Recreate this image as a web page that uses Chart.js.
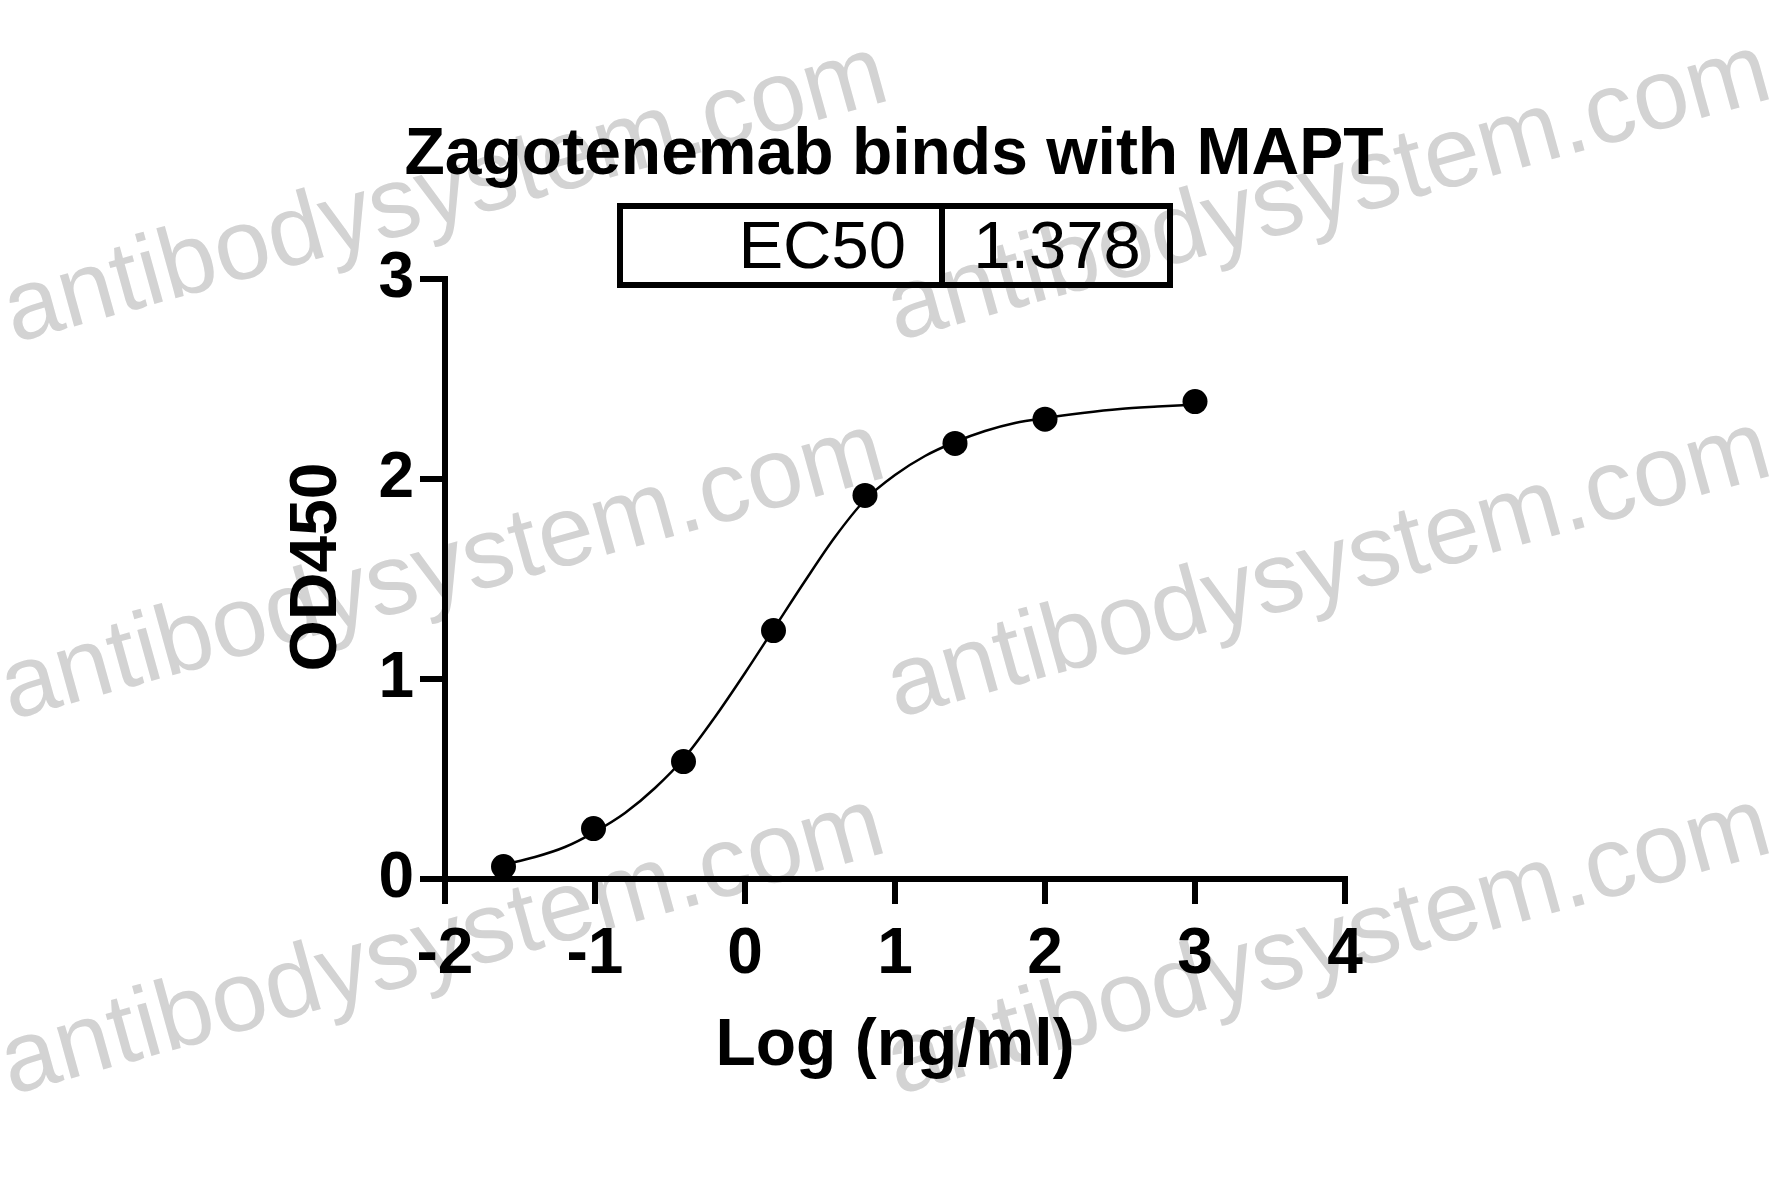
<!DOCTYPE html>
<html>
<head>
<meta charset="utf-8">
<script src="https://cdn.jsdelivr.net/npm/chart.js@4.4.1/dist/chart.umd.min.js"></script>
<style>
  html, body { margin: 0; padding: 0; background: #fff; }
  #wrap { width: 1781px; height: 1197px; }
</style>
</head>
<body>
<div id="wrap"><canvas id="chart" width="1781" height="1197"></canvas></div>
<script>
// measured points: log concentration (ng/ml) vs OD450
const logConc = [-1.61, -1.01, -0.41, 0.19, 0.80, 1.40, 2.00, 3.00];
const od450 = [0.062, 0.252, 0.587, 1.242, 1.918, 2.178, 2.299, 2.387];

// fitted curve
const fitX = [-1.61, -1.4, -1.2, -1.0, -0.8, -0.6, -0.4, -0.2, 0, 0.2, 0.4, 0.6, 0.8, 1.0, 1.2, 1.4, 1.6, 1.8, 2.0, 2.25, 2.5, 2.75, 3.0];
const fitY = [0.072, 0.11, 0.16, 0.236, 0.33, 0.455, 0.61, 0.81, 1.03, 1.26, 1.49, 1.71, 1.895, 2.02, 2.115, 2.185, 2.24, 2.28, 2.305, 2.33, 2.35, 2.362, 2.372];

const xTicks = [-2, -1, 0, 1, 2, 3, 4];
const yTicks = [0, 1, 2, 3];

const chartTitle = 'Zagotenemab binds with MAPT';
const yTitle = 'OD450';
const ec50Label = 'EC50';
const ec50Value = '1.378';
const watermark = 'antibodysystem.com';

const FONT = '"Liberation Sans", Arial, sans-serif';

const pts = logConc.map((x, i) => ({ x: x, y: od450[i] }));
const fit = fitX.map((x, i) => ({ x: x, y: fitY[i] }));

// white page + grey watermark behind everything
const watermarkPlugin = {
  id: 'watermark',
  beforeDraw(chart) {
    const ctx = chart.ctx;
    ctx.save();
    ctx.fillStyle = '#fff';
    ctx.fillRect(0, 0, chart.width, chart.height);
    ctx.fillStyle = '#d3d3d3';
    ctx.font = '100px ' + FONT;
    ctx.textBaseline = 'alphabetic';
    ctx.textAlign = 'left';
    const spots = [[14, 343], [897, 341], [11, 720], [897, 718], [11, 1095], [897, 1095]];
    spots.forEach(p => {
      ctx.save();
      ctx.translate(p[0], p[1]);
      ctx.rotate(-15.5 * Math.PI / 180);
      ctx.fillText(watermark, 0, 0);
      ctx.restore();
    });
    ctx.restore();
  }
};

// title, y axis title and the EC50 table
const headerPlugin = {
  id: 'header',
  afterDraw(chart) {
    const ctx = chart.ctx;
    ctx.save();
    ctx.fillStyle = '#000';
    ctx.textBaseline = 'alphabetic';
    ctx.textAlign = 'center';
    ctx.font = 'bold 66px ' + FONT;
    ctx.fillText(chartTitle, 894, 174);

    // y axis title, rotated
    ctx.save();
    ctx.translate(318, 567);
    ctx.rotate(-Math.PI / 2);
    ctx.textBaseline = 'middle';
    ctx.font = 'bold 66px ' + FONT;
    ctx.fillText(yTitle, 0, 0);
    ctx.restore();

    ctx.strokeStyle = '#000';
    ctx.lineWidth = 6;
    ctx.strokeRect(620, 206, 550, 79);
    ctx.beginPath();
    ctx.moveTo(942, 206);
    ctx.lineTo(942, 285);
    ctx.stroke();

    ctx.font = '67px ' + FONT;
    ctx.textAlign = 'right';
    ctx.fillText(ec50Label, 906, 268);
    ctx.textAlign = 'center';
    ctx.fillText(ec50Value, 1057, 268);
    ctx.restore();
  }
};

new Chart(document.getElementById('chart'), {
  type: 'scatter',
  data: {
    datasets: [
      {
        data: pts,
        showLine: false,
        pointRadius: 12.5,
        pointHoverRadius: 12.5,
        backgroundColor: '#000',
        borderColor: '#000',
        borderWidth: 0
      },
      {
        data: fit,
        showLine: true,
        pointRadius: 0,
        borderColor: '#000',
        borderWidth: 2.5,
        cubicInterpolationMode: 'monotone',
        fill: false
      }
    ]
  },
  options: {
    responsive: false,
    animation: false,
    events: [],
    clip: false,
    layout: { padding: { top: 279, right: 436, bottom: 0, left: 0 } },
    plugins: {
      legend: { display: false },
      tooltip: { enabled: false },
      title: { display: false }
    },
    scales: {
      x: {
        type: 'linear',
        min: -2,
        max: 4,
        afterBuildTicks: s => { s.ticks = xTicks.map(v => ({ value: v })); },
        afterFit: s => { s.height = 318; },
        ticks: {
          color: '#000',
          font: { family: FONT, size: 64, weight: 'bold' },
          padding: 13,
          maxRotation: 0
        },
        grid: { drawOnChartArea: false, drawTicks: true, tickLength: 25, lineWidth: 6, color: '#000' },
        border: { display: true, width: 6, color: '#000' },
        title: {
          display: true,
          text: 'Log (ng/ml)',
          color: '#000',
          font: { family: FONT, size: 66, weight: 'bold' },
          padding: { top: 0, bottom: 111 }
        }
      },
      y: {
        type: 'linear',
        min: 0,
        max: 3,
        afterBuildTicks: s => { s.ticks = yTicks.map(v => ({ value: v })); },
        afterFit: s => { s.width = 445; },
        ticks: {
          color: '#000',
          font: { family: FONT, size: 64, weight: 'bold' },
          padding: 6
        },
        grid: { drawOnChartArea: false, drawTicks: true, tickLength: 25, lineWidth: 6, color: '#000' },
        border: { display: true, width: 6, color: '#000' },
        title: { display: false }
      }
    }
  },
  plugins: [watermarkPlugin, headerPlugin]
});
</script>
</body>
</html>
